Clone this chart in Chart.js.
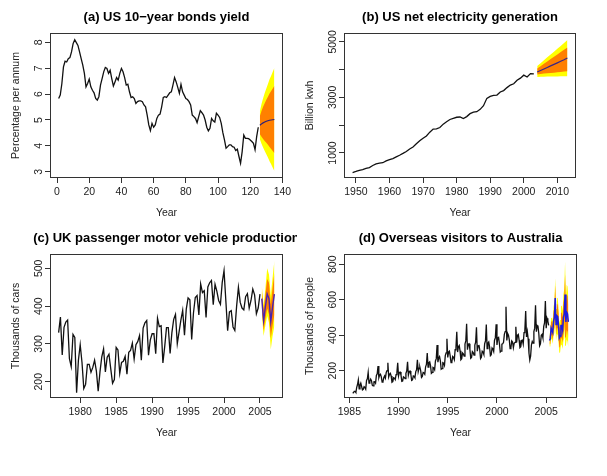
<!DOCTYPE html>
<html>
<head>
<meta charset="utf-8">
<script src="https://cdn.jsdelivr.net/npm/chart.js@4.4.1/dist/chart.umd.min.js"></script>
<style>
html, body { margin: 0; padding: 0; background: #fff; }
#wrap { position: relative; width: 607px; height: 476px; overflow: hidden; }
canvas { position: absolute; }
</style>
</head>
<body>
<div id="wrap">
<canvas id="pa" width="303" height="230" style="left:0px;top:0px"></canvas>
<canvas id="pb" width="304" height="230" style="left:303px;top:0px"></canvas>
<canvas id="pc" width="297" height="246" style="left:0px;top:230px"></canvas>
<canvas id="pd" width="304" height="246" style="left:303px;top:230px"></canvas>
</div>
<script>
// (a) US 10-year bonds yield, obs 1..125, forecast 126..135
var bondsYield = [
  5.83, 5.96, 6.40, 7.05, 7.27, 7.24, 7.37, 7.41, 7.63, 7.95,
  8.10, 7.99, 7.88, 7.63, 7.37, 7.12, 6.80, 6.28, 6.41, 6.58,
  6.28, 6.15, 6.05, 5.83, 5.77, 5.90, 6.35, 6.60, 6.86, 7.03,
  6.99, 6.80, 6.92, 6.60, 6.31, 6.47, 6.64, 6.54, 6.80, 6.99,
  6.86, 6.64, 6.35, 6.38, 6.09, 5.87, 5.90, 5.83, 5.64, 5.71,
  5.74, 5.74, 5.71, 5.58, 5.51, 5.19, 4.81, 4.59, 4.87, 4.72,
  4.81, 5.06, 5.19, 5.23, 5.51, 5.87, 5.90, 5.87, 5.96, 6.05,
  6.09, 6.35, 6.64, 6.47, 6.26, 6.03, 6.38, 6.09, 5.96, 5.83,
  5.79, 5.71, 5.58, 5.19, 5.13, 5.06, 4.90, 5.13, 5.36, 5.28,
  5.19, 5.00, 4.72, 4.58, 4.68, 5.06, 4.97, 4.92, 5.26, 5.19,
  5.10, 4.87, 4.51, 4.23, 3.91, 3.97, 4.04, 4.04, 3.97, 3.95,
  3.82, 3.87, 3.59, 3.33, 3.78, 4.42, 4.29, 4.29, 4.28, 4.23,
  4.17, 4.10, 3.85, 4.36, 4.72
];
var bondsMean = [4.80, 4.85, 4.89, 4.92, 4.95, 4.97, 4.99, 5.00, 5.01, 5.02];
var bondsHi80 = [5.15, 5.35, 5.51, 5.65, 5.78, 5.90, 6.02, 6.12, 6.22, 6.32];
var bondsLo80 = [4.45, 4.35, 4.27, 4.19, 4.12, 4.04, 3.96, 3.88, 3.80, 3.72];
var bondsHi95 = [5.34, 5.62, 5.84, 6.04, 6.22, 6.39, 6.57, 6.71, 6.86, 7.01];
var bondsLo95 = [4.26, 4.08, 3.94, 3.80, 3.68, 3.55, 3.41, 3.29, 3.16, 3.03];
var bondsXTicks = [0, 20, 40, 60, 80, 100, 120, 140];
var bondsYTicks = [3, 4, 5, 6, 7, 8];

// (b) US net electricity generation 1949-2003, forecast 2004-2013
var elecGen = [
  296, 334, 375, 404, 447, 476, 550, 604, 635, 649,
  713, 759, 797, 858, 917, 984, 1055, 1144, 1214, 1329,
  1442, 1532, 1614, 1750, 1861, 1867, 1918, 2038, 2124, 2206,
  2247, 2286, 2295, 2241, 2310, 2416, 2470, 2487, 2572, 2704,
  2967, 3038, 3073, 3084, 3197, 3247, 3353, 3444, 3492, 3620,
  3695, 3802, 3737, 3858, 3848
];
var elecMean = [3915, 3970, 4025, 4080, 4135, 4190, 4245, 4300, 4355, 4420];
var elecHi80 = [4040, 4125, 4210, 4295, 4380, 4465, 4550, 4635, 4715, 4795];
var elecLo80 = [3830, 3845, 3860, 3870, 3880, 3890, 3905, 3915, 3930, 3940];
var elecHi95 = [4130, 4235, 4340, 4445, 4545, 4645, 4750, 4855, 4960, 5065];
var elecLo95 = [3740, 3745, 3748, 3750, 3752, 3755, 3757, 3759, 3761, 3763];
var elecXTicks = [1950, 1960, 1970, 1980, 1990, 2000, 2010];
var elecYTicks = [1000, 2000, 3000, 4000, 5000];
var elecYLabels = [1000, 3000, 5000];

// (c) UK passenger cars, quarterly 1977Q1-2005Q1, forecast 2005Q2-2007Q1
var ukCars = [
  330, 371, 271, 344,  358, 363, 261, 240,  325, 317, 171, 257,
  298, 251, 182, 193,  246, 246, 225, 238,  257, 228, 175, 226,
  266, 287, 226, 265,  273, 234, 196, 206,  291, 284, 222, 251,
  254, 267, 220, 278,  283, 302, 260, 298,  306, 322, 257, 342,
  356, 362, 270, 311,  327, 327, 274, 368,  346, 348, 250, 293,
  343, 343, 275, 330,  365, 378, 301, 332,  363, 389, 323, 392,
  422, 417, 312, 382,  423, 428, 377, 459,  436, 441, 370, 451,
  462, 468, 404, 458,  440, 415, 405, 463,  494, 415, 335, 385,
  388, 345, 336, 400,  450, 410, 395, 390,  425, 433, 395, 415,
  445, 430, 380, 395,  432
];
var carsMean = [420, 362, 398, 432, 420, 360, 398, 432];
var carsHi80 = [442, 389, 430, 472, 462, 405, 448, 487];
var carsLo80 = [398, 335, 366, 394, 378, 315, 348, 377];
var carsHi95 = [454, 403, 447, 500, 484, 429, 475, 520];
var carsLo95 = [386, 321, 349, 374, 356, 285, 321, 348];
var carsXTicks = [1980, 1985, 1990, 1995, 2000, 2005];
var carsYTicks = [200, 300, 400, 500];

// (d) Overseas visitors, monthly May 1985 - Apr 2005, forecast May 2005 - Apr 2007
var visitors = [
  76, 75, 83, 83, 77, 106, 122, 148,
  98, 118, 130, 111, 92, 95, 110, 105, 96, 145, 154, 190,
  130, 140, 152, 143, 118, 114, 137, 138, 130, 173, 183, 226,
  160, 175, 180, 165, 136, 138, 160, 170, 158, 190, 200, 245,
  165, 180, 185, 170, 135, 138, 160, 158, 150, 178, 190, 245,
  170, 190, 192, 175, 140, 142, 165, 162, 155, 185, 198, 250,
  175, 195, 198, 180, 145, 148, 170, 168, 160, 195, 205, 262,
  195, 215, 220, 200, 162, 168, 190, 188, 180, 222, 235, 300,
  220, 245, 250, 228, 185, 190, 218, 215, 205, 255, 268, 345,
  248, 272, 280, 255, 208, 212, 245, 242, 230, 285, 300, 380,
  275, 305, 310, 282, 245, 250, 280, 275, 262, 318, 332, 420,
  305, 335, 342, 312, 262, 268, 300, 295, 282, 350, 368, 465,
  318, 350, 352, 320, 270, 275, 308, 302, 288, 345, 360, 445,
  310, 340, 345, 318, 268, 275, 310, 305, 292, 352, 368, 460,
  325, 355, 362, 335, 285, 290, 328, 322, 308, 372, 385, 462,
  345, 385, 388, 352, 305, 310, 350, 352, 360, 405, 420, 560,
  370, 410, 400, 375, 325, 330, 368, 362, 330, 355, 360, 448,
  360, 400, 405, 372, 330, 335, 370, 372, 350, 415, 430, 537,
  390, 420, 380, 300, 260, 282, 345, 365, 355, 420, 440, 569,
  420, 455, 450, 410, 341, 352, 400, 405, 385, 450, 470, 593,
  440, 495, 480, 455
];
var visMean = [370, 380, 440, 440, 415, 480, 500, 610, 460, 510, 505, 460,
               385, 395, 455, 455, 430, 500, 520, 630, 475, 530, 520, 475];
var visHi80 = [392, 409, 477, 482, 457, 533, 558, 683, 518, 576, 573, 524,
               441, 454, 526, 528, 501, 585, 611, 743, 563, 631, 621, 570];
var visLo80 = [348, 351, 403, 398, 373, 427, 442, 537, 402, 444, 437, 396,
               329, 336, 384, 382, 359, 415, 429, 517, 387, 429, 419, 380];
var visHi95 = [404, 424, 497, 504, 479, 561, 588, 722, 548, 611, 610, 558,
               470, 486, 563, 567, 538, 630, 659, 815, 609, 684, 675, 620];
var visLo95 = [336, 336, 383, 376, 351, 399, 412, 498, 372, 409, 400, 362,
               300, 304, 347, 343, 322, 370, 381, 457, 341, 376, 365, 330];
var visXTicks = [1985, 1990, 1995, 2000, 2005];
var visYTicks = [200, 400, 600, 800];

var FONT = "'Liberation Sans', Arial, Helvetica, sans-serif";
var YELLOW = '#FFFF00';
var ORANGE = '#FF8000';

// time index for a series
function times(start, freq, n) {
  var t = [];
  for (var i = 0; i < n; i++) t.push(start + i / freq);
  return t;
}
function pts(xs, ys) {
  return ys.map(function(v, i) { return {x: xs[i], y: v}; });
}

// box, rotated y labels and bold title, R style
var rStyle = {
  id: 'rStyle',
  afterDraw: function(chart) {
    var o = chart.options.plugins.rStyle;
    var ctx = chart.ctx, a = chart.chartArea;
    ctx.save();
    ctx.strokeStyle = '#333';
    ctx.lineWidth = 1;
    ctx.strokeRect(Math.round(a.left) + 0.5, Math.round(a.top) + 0.5,
      Math.round(a.right - a.left) - 1, Math.round(a.bottom - a.top) - 1);
    ctx.fillStyle = '#222';
    ctx.font = '10.5px ' + FONT;
    ctx.textAlign = 'center';
    ctx.textBaseline = 'middle';
    o.yLabels.forEach(function(v) {
      var y = chart.scales.y.getPixelForValue(v);
      ctx.save();
      ctx.translate(a.left - 11, y);
      ctx.rotate(-Math.PI / 2);
      ctx.fillText(String(v), 0, 0);
      ctx.restore();
    });
    ctx.fillStyle = '#000';
    ctx.font = 'bold 13px ' + FONT;
    ctx.fillText(o.title, o.titleX, a.top - 16);
    ctx.restore();
  }
};

function panel(id, p) {
  var cv = document.getElementById(id);
  var H = cv.height, W = cv.width;
  var axisFont = {family: FONT, size: 10.5};
  var tickGrid = {drawOnChartArea: false, drawTicks: true, tickLength: 5, color: '#333', tickColor: '#333'};
  var band = {borderWidth: 0, borderColor: 'rgba(0,0,0,0)', pointRadius: 0};
  new Chart(cv, {
    type: 'line',
    data: {
      datasets: [
        {data: pts(p.x, p.obs), borderColor: '#111', borderWidth: 1.3, pointRadius: 0, order: 1},
        {data: pts(p.fx, p.mean), borderColor: p.meanColor, borderWidth: p.meanWidth, pointRadius: 0, order: 0},
        Object.assign({data: pts(p.fx, p.hi80), backgroundColor: ORANGE, fill: '+1', order: 2}, band),
        Object.assign({data: pts(p.fx, p.lo80), fill: false, order: 2}, band),
        Object.assign({data: pts(p.fx, p.hi95), backgroundColor: YELLOW, fill: '+1', order: 3}, band),
        Object.assign({data: pts(p.fx, p.lo95), fill: false, order: 3}, band)
      ]
    },
    options: {
      responsive: false,
      animation: false,
      devicePixelRatio: 1,
      elements: {line: {tension: 0}},
      layout: {autoPadding: false, padding: {left: 0, bottom: 0, top: p.box[1], right: W - p.box[2]}},
      plugins: {
        legend: {display: false},
        tooltip: {enabled: false},
        rStyle: {title: p.title, yLabels: p.yLabels, titleX: (p.box[0] + p.box[2]) / 2}
      },
      scales: {
        x: {
          type: 'linear', min: p.xr[0], max: p.xr[1],
          afterBuildTicks: function(s) { s.ticks = p.xTicks.map(function(v) { return {value: v}; }); },
          afterFit: function(s) { s.height = H - p.box[3]; },
          grid: tickGrid,
          border: {display: false},
          ticks: {autoSkip: false, maxRotation: 0, padding: 3, color: '#222', font: axisFont,
                  callback: function(v) { return String(v); }},
          title: {display: true, text: 'Year', color: '#222', font: axisFont,
                  padding: {top: 0, bottom: H - p.yearY - 6.3}}
        },
        y: {
          type: 'linear', min: p.yr[0], max: p.yr[1],
          afterBuildTicks: function(s) { s.ticks = p.yTicks.map(function(v) { return {value: v}; }); },
          afterFit: function(s) { s.width = p.box[0]; },
          grid: tickGrid,
          border: {display: false},
          ticks: {display: false},
          title: {display: true, text: p.ylab, color: '#222', font: axisFont,
                  padding: {top: p.ylabX - 6.3, bottom: 0}}
        }
      }
    },
    plugins: [rStyle]
  });
}

panel('pa', {
  title: '(a) US 10\u2212year bonds yield', ylab: 'Percentage per annum',
  x: times(1, 1, bondsYield.length), obs: bondsYield,
  fx: times(126, 1, bondsMean.length), mean: bondsMean,
  hi80: bondsHi80, lo80: bondsLo80, hi95: bondsHi95, lo95: bondsLo95,
  xr: [-4.36, 140.36], yr: [2.76, 8.36],
  xTicks: bondsXTicks, yTicks: bondsYTicks, yLabels: bondsYTicks,
  box: [50, 33, 283, 178], yearY: 212.7, ylabX: 16.3,
  meanColor: '#2c1f78', meanWidth: 1.2
});
panel('pb', {
  title: '(b) US net electricity generation', ylab: 'Billion kwh',
  x: times(1949, 1, elecGen.length), obs: elecGen,
  fx: times(2004, 1, elecMean.length), mean: elecMean,
  hi80: elecHi80, lo80: elecLo80, hi95: elecHi95, lo95: elecLo95,
  xr: [1946.44, 2015.56], yr: [99, 5320],
  xTicks: elecXTicks, yTicks: elecYTicks, yLabels: elecYLabels,
  box: [41, 33, 273, 178], yearY: 212.7, ylabX: 6.7,
  meanColor: '#3a2585', meanWidth: 1.2
});
panel('pc', {
  title: '(c) UK passenger motor vehicle production', ylab: 'Thousands of cars',
  x: times(1977, 4, ukCars.length), obs: ukCars,
  fx: times(2005.25, 4, carsMean.length), mean: carsMean,
  hi80: carsHi80, lo80: carsLo80, hi95: carsHi95, lo95: carsLo95,
  xr: [1975.8, 2008.2], yr: [157, 538],
  xTicks: carsXTicks, yTicks: carsYTicks, yLabels: carsYTicks,
  box: [50, 24, 283, 168], yearY: 203, ylabX: 16,
  meanColor: '#4a22b0', meanWidth: 1.4
});
panel('pd', {
  title: '(d) Overseas visitors to Australia', ylab: 'Thousands of people',
  x: times(1985 + 4 / 12, 12, visitors.length), obs: visitors,
  fx: times(2005 + 4 / 12, 12, visMean.length), mean: visMean,
  hi80: visHi80, lo80: visLo80, hi95: visHi95, lo95: visLo95,
  xr: [1984.46, 2008.13], yr: [46, 858],
  xTicks: visXTicks, yTicks: visYTicks, yLabels: visYTicks,
  box: [41, 24, 274, 168], yearY: 203, ylabX: 6.7,
  meanColor: '#1c1ce0', meanWidth: 1.5
});
</script>
</body>
</html>
